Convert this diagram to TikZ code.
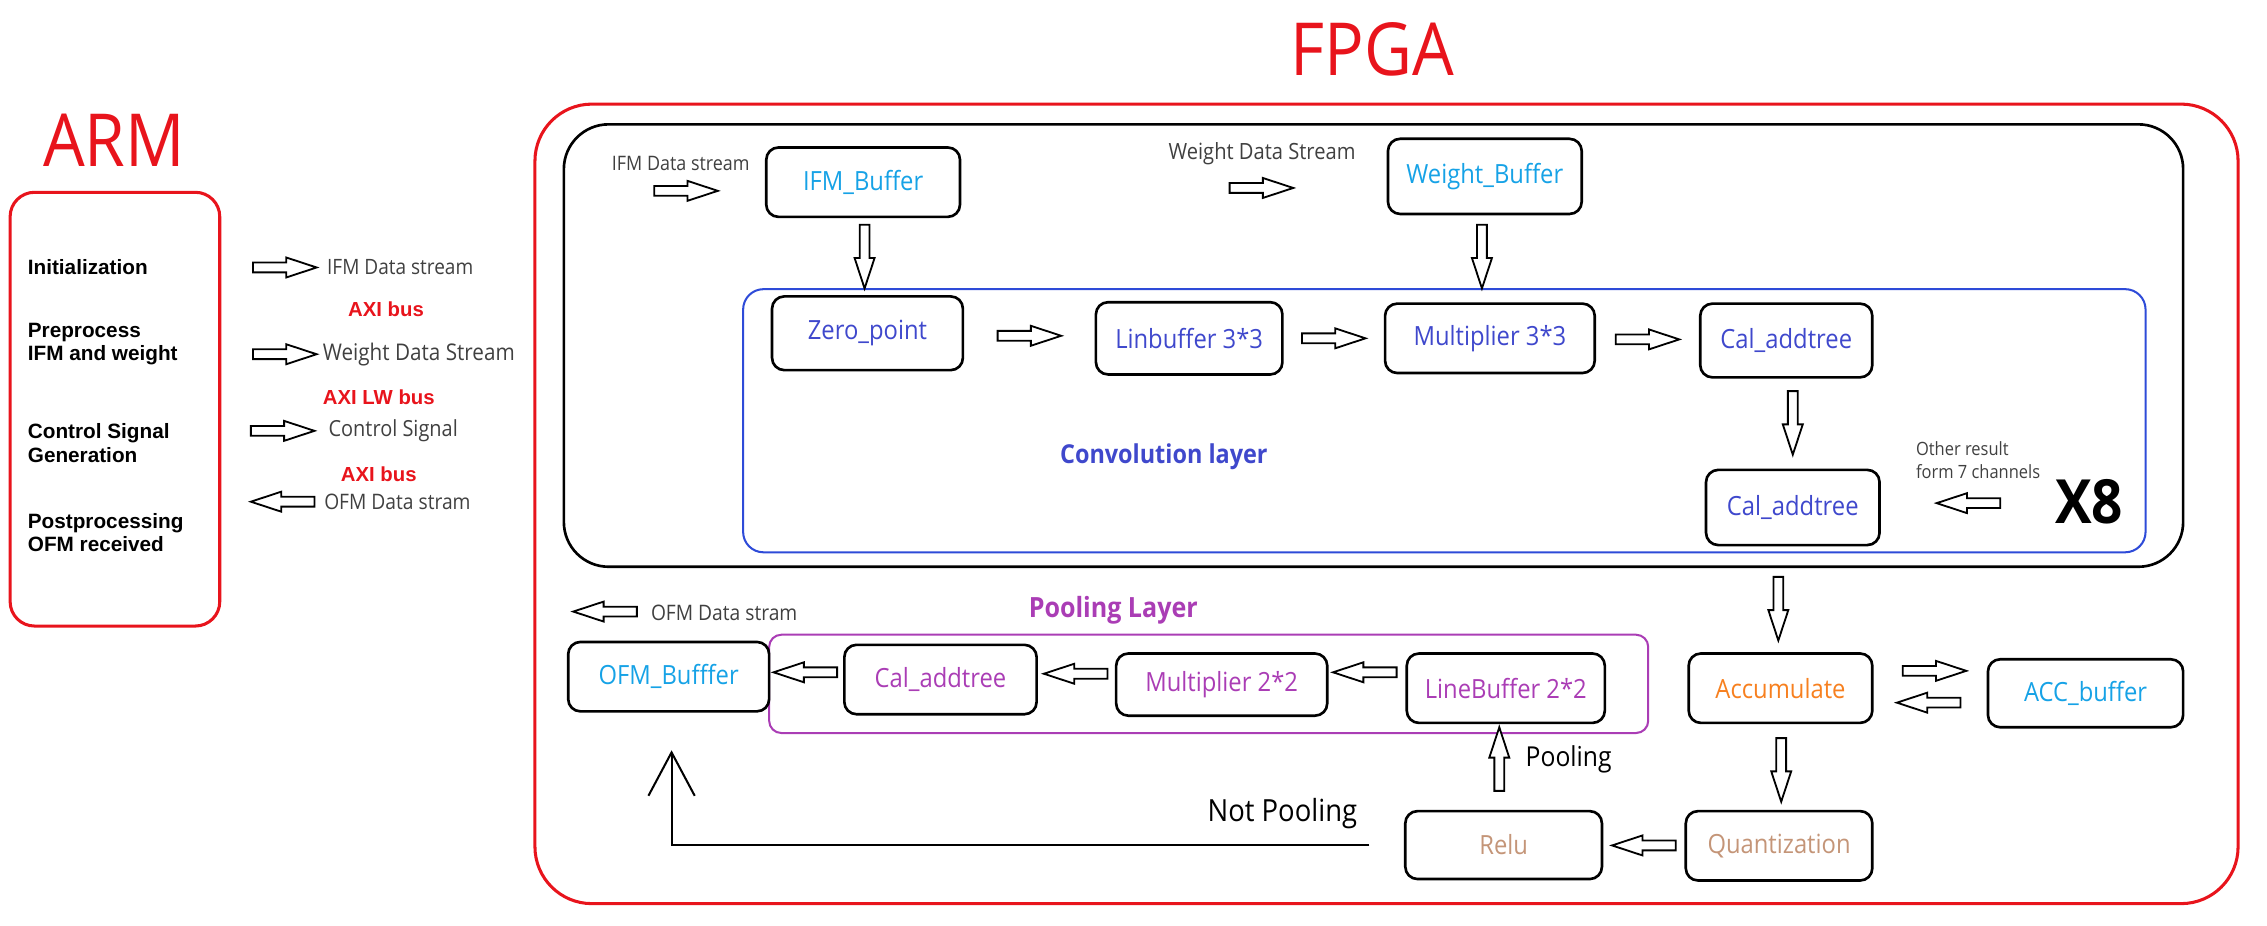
\documentclass[tikz,border=0pt]{standalone}
\usepackage{fontspec}
\setmainfont{Open Sans}[FakeStretch=0.9]
\newfontfamily\arialfont{Liberation Sans}
\usetikzlibrary{calc,arrows.meta,positioning}
\definecolor{armred}{HTML}{E8141C}
\definecolor{cvblue}{HTML}{3F48CC}
\definecolor{frblue}{HTML}{2E4BD8}
\definecolor{bufcyan}{HTML}{16A2E6}
\definecolor{accorange}{HTML}{F7801F}
\definecolor{qbrown}{HTML}{C49578}
\definecolor{poolpurple}{HTML}{AA3DB5}
\definecolor{streamgray}{HTML}{404040}
\newcommand{\fsz}[2]{\fontsize{#1}{#2}\selectfont}
\tikzset{
  sz/.style 2 args={minimum width=#1*0.025cm, minimum height=#2*0.025cm},
  box/.style={draw, line width=1.3pt, rounded corners=6pt, inner sep=0pt, font=\fsz{13}{15}},
  barrow/.pic={\draw[line width=0.9pt, fill=white, line join=miter]
    (-22,-3.4) -- (1,-3.4) -- (1,-6.9) -- (22,0) -- (1,6.9) -- (1,3.4) -- (-22,3.4) -- cycle;},
  armlabel/.style={anchor=west, align=left, inner sep=0pt, font=\arialfont\bfseries\fsz{10.2}{11.5}},
  buslabel/.style={inner sep=0pt, text=armred, font=\arialfont\bfseries\fsz{10}{12}},
  stream/.style={anchor=west, inner sep=0pt, text=streamgray},
}
\begin{document}
\begin{tikzpicture}[x=0.025cm, y=-0.025cm]
\useasboundingbox (0,0) rectangle (1568,640);
% ARM side
\node[anchor=base, text=armred, font=\fsz{36}{40}] (armtitle) at (79,115) {ARM};
\node[draw=armred, line width=1.5pt, rounded corners=12pt, sz={145}{300}] (armbox) at (79.5,283) {};
\node[armlabel] (init) at (19,185) {Initialization};
\node[armlabel] (prep) at (19,238) {Preprocess\\IFM and weight};
\node[armlabel] (ctrl) at (19,306.5) {Control Signal\\Generation};
\node[armlabel] (post) at (19,368.5) {Postprocessing\\OFM received};
\pic (a1) at (197,185) {barrow};
\pic (a2) at (197,245) {barrow};
\pic (a3) at (195.5,298) {barrow};
\pic[rotate=180] (a4) at (195.5,347) {barrow};
\node[stream, font=\fsz{10.4}{12}] (s1) at (226,185) {IFM Data stream};
\node[stream, font=\fsz{11.3}{13}] (s2) at (223,245) {Weight Data Stream};
\node[stream, font=\fsz{10.9}{13}] (s3) at (227,298) {Control Signal};
\node[stream, font=\fsz{10.5}{12}] (s4) at (224,347) {OFM Data stram};
\node[buslabel] (bus1) at (267,214) {AXI bus};
\node[buslabel] (bus2) at (262,275) {AXI LW bus};
\node[buslabel] (bus3) at (262,328) {AXI bus};

% FPGA side
\node[anchor=base, text=armred, font=\fsz{36}{40}] (fpgatitle) at (949,52) {FPGA};
\node[draw=armred, line width=1.5pt, rounded corners=28pt, sz={1178}{553}] (fpga) at (959,348.5) {};
\node[draw, line width=1.3pt, rounded corners=22pt, sz={1120}{306}] (outer) at (950,239) {};
\node[draw=frblue, line width=1pt, rounded corners=10pt, sz={970}{182}] (conv) at (999,291) {};
\node[draw=poolpurple, line width=1pt, rounded corners=6pt, sz={608}{68}] (pool) at (836,473) {};

% buffers
\node[stream, font=\fsz{9.8}{12}] (ifmin) at (423,113) {IFM Data stream};
\pic (aifm) at (474.5,132) {barrow};
\node[box, sz={134}{48}, text=bufcyan] (ifm) at (597,126) {IFM\_Buffer};
\node[stream, font=\fsz{11}{13}] (wtin) at (808,106) {Weight Data Stream};
\pic (awt) at (872.5,130) {barrow};
\node[box, sz={134}{52}, text=bufcyan] (wbuf) at (1027,122) {Weight\_Buffer};
\pic[rotate=-90] (dn1) at (598,177.5) {barrow};
\pic[rotate=-90] (dn2) at (1025,177.5) {barrow};

% convolution layer
\node[box, sz={132}{51}, text=cvblue] (zero) at (600,230.5) {Zero\_point};
\node[box, sz={129}{50}, text=cvblue] (lin) at (822.5,234) {Linbuffer 3*3};
\node[box, sz={145}{48}, text=cvblue] (mul) at (1030.5,234) {Multiplier 3*3};
\node[box, sz={119}{51}, text=cvblue] (cal1) at (1235.5,235.5) {Cal\_addtree};
\node[box, sz={120}{52}, text=cvblue] (cal2) at (1240,351) {Cal\_addtree};
\pic (zl) at ($(zero.east)!.5!(lin.west)$) {barrow};
\pic (lm) at ($(lin.east)!.5!(mul.west)$) {barrow};
\pic (mc) at ($(mul.east)!.5!(cal1.west)$) {barrow};
\pic[rotate=-90] (cc) at (1240,292.5) {barrow};
\pic[rotate=180] (oth) at (1361.5,348) {barrow};
\node[text=cvblue, font=\bfseries\fsz{12.8}{15}] (convlbl) at (805,316) {Convolution layer};
\node[anchor=west, align=left, inner sep=0pt, text=streamgray, font=\fsz{9}{11.4}] (other) at (1325,318) {Other result\\form 7 channels};
\node[font=\bfseries\fsz{30}{34}] (x8) at (1445,347) {X8};

% accumulate / quantization
\pic[rotate=-90] (dn3) at (1230,421) {barrow};
\node[box, sz={127}{48}, text=accorange] (acc) at (1231.5,476) {Accumulate};
\node[box, sz={135}{47}, text=bufcyan] (accbuf) at (1442.5,479.5) {ACC\_buffer};
\pic (ab1) at (1338,464) {barrow};
\pic[rotate=180] (ab2) at (1334,486) {barrow};
\pic[rotate=-90] (dn4) at (1232,532.5) {barrow};
\node[box, sz={129}{48}, text=qbrown] (quant) at (1230.5,585) {Quantization};
\node[box, sz={136}{47}, text=qbrown] (relu) at (1040,584.5) {Relu};
\pic[rotate=180] (qr) at ($(relu.east)!.5!(quant.west)$) {barrow};

% pooling layer
\node[box, sz={137}{48}, text=poolpurple] (lb22) at (1041.5,476) {LineBuffer 2*2};
\node[box, sz={146}{43}, text=poolpurple] (mul22) at (845,473.5) {Multiplier 2*2};
\node[box, sz={133}{48}, text=poolpurple] (cal3) at (650.5,470) {Cal\_addtree};
\node[box, sz={139}{48}, text=bufcyan] (ofm) at (462.5,468) {OFM\_Bufffer};
\pic[rotate=180] (p1) at (944,465) {barrow};
\pic[rotate=180] (p2) at (744,466) {barrow};
\pic[rotate=180] (p3) at (557,465) {barrow};
\pic[rotate=90] (up) at (1037,525) {barrow};
\node[text=poolpurple, font=\bfseries\fsz{13.7}{16}] (poollbl) at (770,422) {Pooling Layer};
\pic[rotate=180] (aofm) at (418.5,423) {barrow};
\node[stream, font=\fsz{10.5}{12}] (ofmout) at (450,424) {OFM Data stram};
\node[anchor=west, inner sep=0pt, font=\fsz{13.5}{16}] (plbl) at (1055,525) {Pooling};
\node[anchor=west, inner sep=0pt, font=\fsz{15}{18}] (nplbl) at (835,563) {Not Pooling};
\coordinate (npstart) at ($(relu.west)+(-24,0)$);
\draw[line width=1pt, -{Straight Barb[length=0.75cm, width=0.8cm, line width=1pt]}]
  (npstart) -| ($(ofm.south)+(2,26)$);
\end{tikzpicture}
\end{document}
